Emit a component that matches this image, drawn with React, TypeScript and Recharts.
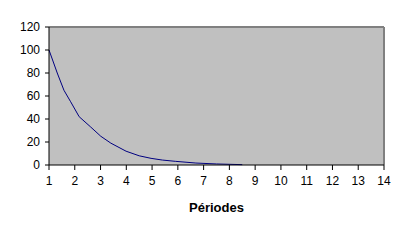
import { LineChart, Line, XAxis, YAxis, CartesianGrid, ReferenceLine } from 'recharts';

// values
const periods = [1, 1.32, 1.58, 1.84, 2.17, 2.62, 3.01, 3.4, 3.99, 4.5, 4.96, 5.4, 5.9, 6.7, 7.5, 8.5];
const amounts = [100, 80, 65, 55, 42, 33, 25, 19, 12, 8, 5.8, 4.3, 3.2, 1.7, 0.9, 0.3];
const xTicks = [1, 2, 3, 4, 5, 6, 7, 8, 9, 10, 11, 12, 13, 14];
const yTicks = [0, 20, 40, 60, 80, 100, 120];

const data = periods.map((p, i) => ({ p, v: amounts[i] }));

const font = { fontSize: 12, fill: '#000', fontFamily: 'Arial, "Liberation Sans", sans-serif' };

const App = () => (
  <div style={{ position: 'absolute', left: 0, top: 0, width: 408, height: 240, background: '#fff' }}>
    <LineChart width={408} height={240} data={data} margin={{ top: 27, right: 24, bottom: 0, left: 0 }}>
      <CartesianGrid fill="#C0C0C0" horizontal={false} vertical={false} />
      <ReferenceLine y={120} stroke="#808080" strokeWidth={2} />
      <ReferenceLine x={14} stroke="#808080" strokeWidth={2} />
      <XAxis
        dataKey="p"
        type="number"
        domain={[1, 14]}
        ticks={xTicks}
        interval={0}
        height={75}
        stroke="#000"
        tickSize={5}
        tickMargin={6}
        tick={font}
        label={{ value: 'Périodes', position: 'insideBottom', offset: 28, style: { ...font, fontSize: 13, fontWeight: 'bold' } }}
      />
      <YAxis
        type="number"
        domain={[0, 120]}
        ticks={yTicks}
        interval={0}
        width={49}
        stroke="#000"
        tickSize={4}
        tickMargin={5}
        tick={font}
      />
      <Line dataKey="v" type="linear" stroke="#000080" strokeWidth={1} dot={false} isAnimationActive={false} />
    </LineChart>
  </div>
);

export default App;
